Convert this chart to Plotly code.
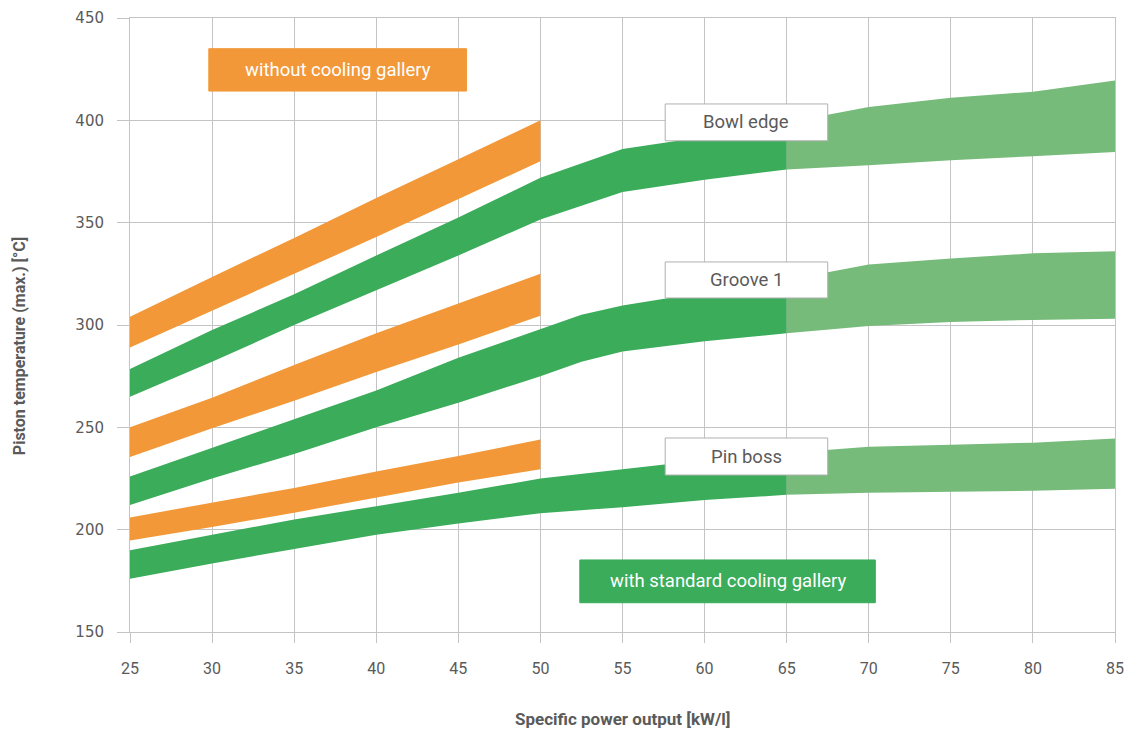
import plotly.graph_objects as go

# ---- data ----
x_orange = [25, 30, 35, 40, 45, 50]
bowl_or_top = [304, 323.5, 342.5, 362, 381, 400]
bowl_or_bot = [289, 307, 325, 343, 361.5, 380]
groove_or_top = [250, 264.5, 280.5, 296, 310.5, 325]
groove_or_bot = [235.5, 249.5, 263, 277, 290.5, 304.5]
pin_or_top = [206, 213.3, 220.4, 228.4, 236, 244]
pin_or_bot = [194.7, 201.3, 208.3, 215.5, 223, 229.5]

x_bowl = [25, 30, 35, 40, 45, 50, 55, 60, 65, 70, 75, 80, 85]
bowl_gr_top = [278.5, 297.5, 315, 334, 352.5, 372, 386, 392, 399, 406.5, 411, 414, 419.5]
bowl_gr_bot = [265, 282, 300, 317, 334, 351.5, 365, 371, 376, 378, 380.5, 382.5, 384.5]

x_groove = [25, 30, 35, 40, 45, 50, 52.5, 55, 60, 65, 70, 75, 80, 85]
groove_gr_top = [226, 240, 254, 268, 284, 298, 305, 309.5, 316, 322, 329.5, 332.5, 335, 336]
groove_gr_bot = [212, 225, 237, 250, 262, 275, 282, 287, 292, 296, 299.5, 301.5, 302.5, 303]

x_pin = [25, 30, 35, 40, 45, 50, 55, 60, 65, 70, 75, 80, 85]
pin_gr_top = [190, 197.5, 205, 211.5, 218, 225, 229.5, 234, 237.5, 240.5, 241.5, 242.5, 244.5]
pin_gr_bot = [176, 183.5, 190.5, 197.5, 203, 208, 211, 214.5, 217, 218, 218.5, 219, 220]

split_x = 65
x_ticks = list(range(25, 90, 5))
y_ticks = list(range(150, 500, 50))

ORANGE = "#f29838"
DARK_GREEN = "#3aac5a"
LIGHT_GREEN = "#77bb7b"
GRID = "#c4c4c4"
TXT = "#5a5a5a"
COND = "Roboto, sans-serif"

fig = go.Figure()


def band(xs, top, bot, color):
    fig.add_trace(go.Scatter(
        x=list(xs) + list(xs)[::-1],
        y=list(top) + list(bot)[::-1],
        fill="toself", fillcolor=color, mode="lines",
        line=dict(width=0, color=color), hoverinfo="skip", showlegend=False))


def split_band(xs, top, bot):
    xd = [x for x in xs if x <= split_x]
    n = len(xd)
    band(xd, top[:n], bot[:n], DARK_GREEN)
    xl = [x for x in xs if x >= split_x]
    m = len(xs) - len(xl)
    band(xl, top[m:], bot[m:], LIGHT_GREEN)


band(x_orange, bowl_or_top, bowl_or_bot, ORANGE)
band(x_orange, groove_or_top, groove_or_bot, ORANGE)
band(x_orange, pin_or_top, pin_or_bot, ORANGE)
split_band(x_bowl, bowl_gr_top, bowl_gr_bot)
split_band(x_groove, groove_gr_top, groove_gr_bot)
split_band(x_pin, pin_gr_top, pin_gr_bot)

# label boxes
boxes = [
    dict(x0=29.8, x1=45.5, y0=414.3, y1=435, fill=ORANGE, line=ORANGE,
         text="without cooling gallery", color="white"),
    dict(x0=52.4, x1=70.4, y0=164.3, y1=185.2, fill=DARK_GREEN, line=DARK_GREEN,
         text="with standard cooling gallery", color="white"),
    dict(x0=57.6, x1=67.5, y0=390, y1=408, fill="white", line="#b0b0b0",
         text="Bowl edge", color=TXT),
    dict(x0=57.6, x1=67.5, y0=313.2, y1=330.8, fill="white", line="#b0b0b0",
         text="Groove 1", color=TXT),
    dict(x0=57.6, x1=67.5, y0=226.7, y1=244.8, fill="white", line="#b0b0b0",
         text="Pin boss", color=TXT),
]
for b in boxes:
    fig.add_shape(type="rect", xref="x", yref="y", x0=b["x0"], x1=b["x1"],
                  y0=b["y0"], y1=b["y1"], fillcolor=b["fill"],
                  line=dict(color=b["line"], width=1), layer="above")
    fig.add_annotation(x=(b["x0"] + b["x1"]) / 2, y=(b["y0"] + b["y1"]) / 2,
                       xref="x", yref="y", text=b["text"], showarrow=False,
                       font=dict(family=COND, size=18.5, color=b["color"]))

fig.add_annotation(x=0.5, y=-0.142, xref="paper", yref="paper",
                   text="<b>Specific power output [kW/l]</b>", showarrow=False,
                   yanchor="middle", font=dict(family=COND, size=17, color=TXT))
fig.add_annotation(x=-0.112, y=0.465, xref="paper", yref="paper",
                   text="<b>Piston temperature (max.) [°C]</b>", showarrow=False,
                   textangle=-90, xanchor="center",
                   font=dict(family=COND, size=16, color=TXT))

fig.update_xaxes(range=[25, 85], tickvals=x_ticks, showgrid=True, gridcolor=GRID,
                 gridwidth=1, zeroline=False, ticks="outside", ticklen=10,
                 tickcolor=GRID, showline=True, linecolor=GRID, mirror=True,
                 ticklabelstandoff=12, automargin=False,
                 tickfont=dict(family=COND, size=16, color=TXT))
fig.update_yaxes(range=[150, 450], tickvals=y_ticks, showgrid=True, gridcolor=GRID,
                 gridwidth=1, zeroline=False, ticks="outside", ticklen=12,
                 tickcolor=GRID, showline=True, linecolor=GRID, mirror=True,
                 ticklabelstandoff=10, automargin=False,
                 tickfont=dict(family="DejaVu Sans", size=15, color=TXT))

fig.update_layout(width=1130, height=731, plot_bgcolor="white", paper_bgcolor="white",
                  margin=dict(l=130, r=15, t=18, b=99, autoexpand=False), showlegend=False)

fig.write_html("out.html", config={"displayModeBar": False},
               post_script="document.body.style.margin='0';document.body.style.overflow='hidden';")
